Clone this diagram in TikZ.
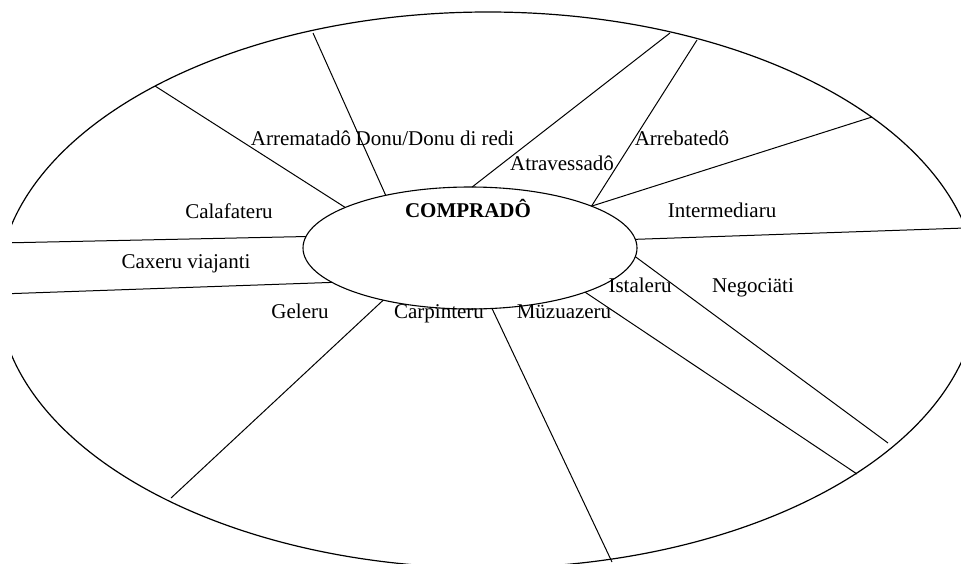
\documentclass[tikz,border=0pt]{standalone}
\usepackage{fontspec}
\setmainfont{Liberation Serif}
\usetikzlibrary{shapes.geometric}

\begin{document}
\begin{tikzpicture}[
    x=1pt, y=-1pt,
    hub/.style={ellipse, draw, line width=1.1pt, inner sep=0pt, outer sep=0pt, minimum width=334pt, minimum height=122pt},
    role/.style={anchor=base, inner sep=0pt, font=\fontsize{21}{24}\selectfont},
    spoke/.style={line width=1pt}
  ]
    \useasboundingbox (0,0) rectangle (961,565);
    \clip (12,0) rectangle (961,563);
    \draw[line width=1.2pt] (488,290) ellipse [x radius=490, y radius=278];
    \node[hub] (core) at (470,248) {};

    \coordinate (rimA) at (155,86);
    \coordinate (rimB) at (313,33);
    \coordinate (rimC) at (670,33);
    \coordinate (rimD) at (697,40);
    \coordinate (rimE) at (872,117);
    \coordinate (rimF) at (965,228);
    \coordinate (rimG) at (888,443);
    \coordinate (rimH) at (857,474);
    \coordinate (rimI) at (612,562);
    \coordinate (rimJ) at (171,498);
    \coordinate (rimK) at (0,294);
    \coordinate (rimL) at (0,243);

    \node[role, font=\fontsize{21}{24}\selectfont\bfseries] (comp) at (468,217) {COMPRADÔ};
    \node[role] (arrem) at (301,145) {Arrematadô};
    \node[role] (donu) at (435,145) {Donu/Donu di redi};
    \node[role] (atrav) at (562,170) {Atravessadô};
    \node[role] (arreb) at (682,145) {Arrebatedô};
    \node[role] (interm) at (722,217) {Intermediaru};
    \node[role] (istal) at (640,292) {Istaleru};
    \node[role] (negoc) at (753,292) {Negociäti};
    \node[role] (muzu) at (564,318) {Müzuazeru};
    \node[role] (carp) at (439,318) {Carpinteru};
    \node[role] (gel) at (300,318) {Geleru};
    \node[role] (caxeru) at (186,268) {Caxeru viajanti};
    \node[role] (calaf) at (229,218) {Calafateru};

    \draw[spoke] (core.162) -- (rimA);
    \draw[spoke] (core.148.3) -- (rimB);
    \draw[spoke] (core.88) -- (rimC);
    \draw[spoke] (core.19.4) -- (rimD);
    \draw[spoke] (core.19.4) -- (rimE);
    \draw[spoke] (core.3.8) -- (rimF);
    \draw[spoke] (core.-3.5) -- (rimG);
    \draw[spoke] (core.-21) -- (rimH);
    \draw[spoke] (core.-70.2) -- (rimI);
    \draw[spoke] (core.211.8) -- (rimJ);
    \draw[spoke] (core.194.8) -- (rimK);
    \draw[spoke] (core.176.2) -- (rimL);
  \end{tikzpicture}
\end{document}
